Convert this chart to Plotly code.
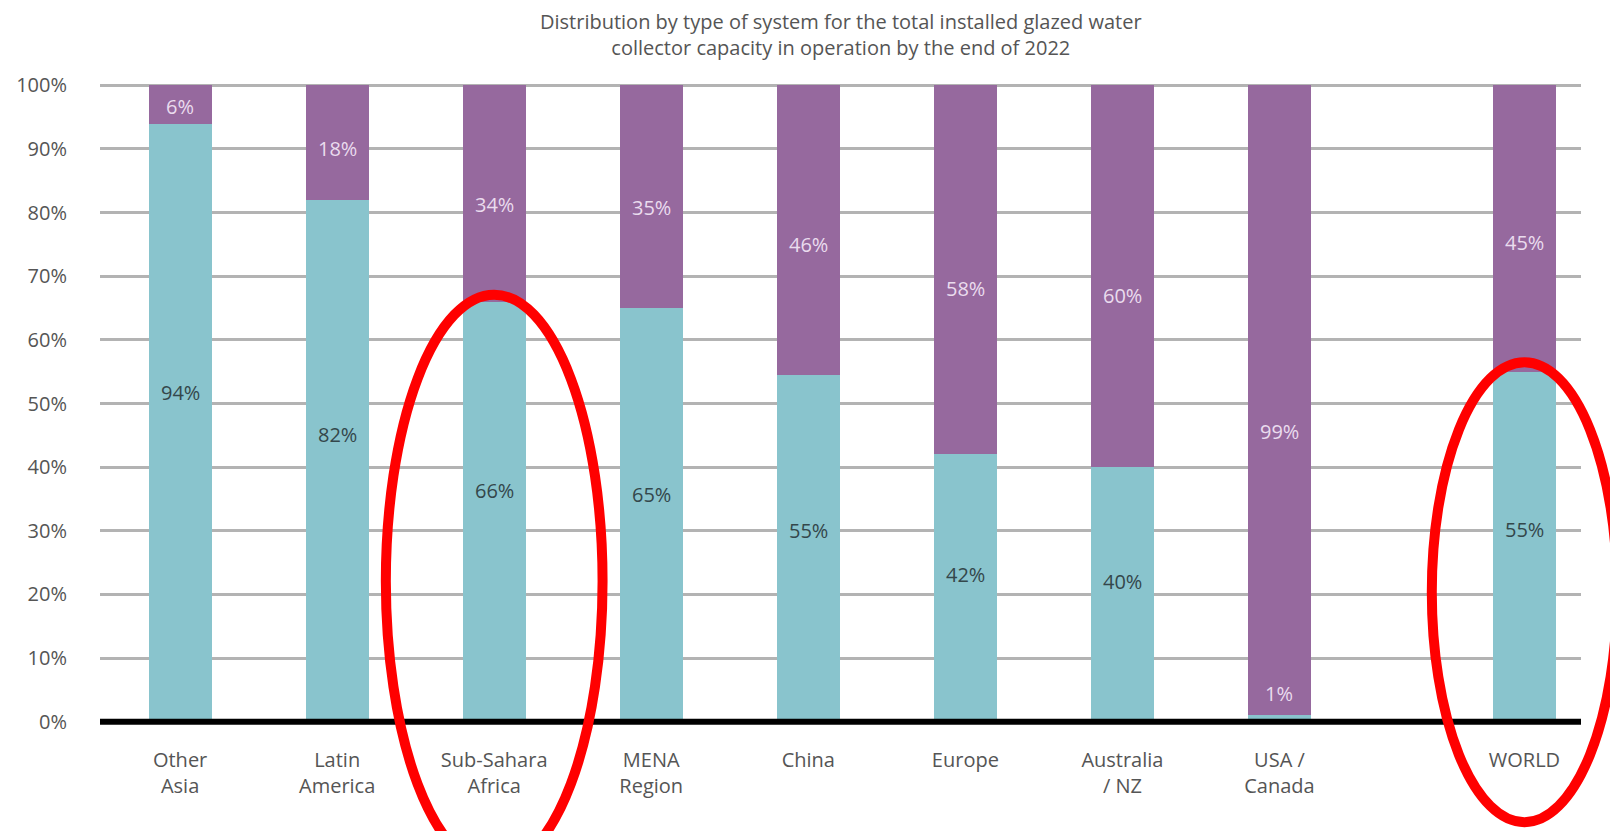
import plotly.graph_objects as go

# ---------------- data ----------------
categories = ["Other<br>Asia", "Latin<br>America", "Sub-Sahara<br>Africa", "MENA<br>Region",
              "China", "Europe", "Australia<br>/ NZ", "USA /<br>Canada", "WORLD"]
teal_values = [94, 82, 66, 65, 54.5, 42, 40, 1, 55]
purple_values = [6, 18, 34, 35, 45.5, 58, 60, 99, 45]
teal_labels = ["94%", "82%", "66%", "65%", "55%", "42%", "40%", "1%", "55%"]
purple_labels = ["6%", "18%", "34%", "35%", "46%", "58%", "60%", "99%", "45%"]
y_tick_values = [0, 10, 20, 30, 40, 50, 60, 70, 80, 90, 100]
y_tick_labels = ["0%", "10%", "20%", "30%", "40%", "50%", "60%", "70%", "80%", "90%", "100%"]
highlighted = ["Sub-Sahara<br>Africa", "WORLD"]
title_text = ("Distribution by type of system for the total installed glazed water<br>"
              "collector capacity in operation by the end of 2022")

# ---------------- layout constants ----------------
TEAL = "#89C4CD"
PURPLE = "#96699E"
WORLD_GAP = 0.56
BAR_W = 0.4
X_RANGE = [-0.51, 8.92]
Y_RANGE = [-1.0, 101.0]
FONT = "Open Sans"
M_L, M_R, M_T, M_B = 100, 29, 79, 103
H = 831
PLOT_H = H - M_T - M_B

n = len(categories)
x_pos = [i for i in range(n - 1)] + [n - 1 + WORLD_GAP]

fig = go.Figure()
fig.add_trace(go.Bar(x=x_pos, y=teal_values, width=BAR_W, marker=dict(color=TEAL, line=dict(width=0)),
                     name="teal", hoverinfo="skip"))
fig.add_trace(go.Bar(x=x_pos, y=purple_values, width=BAR_W, marker=dict(color=PURPLE, line=dict(width=0)),
                     name="purple", hoverinfo="skip"))

LIGHT = "#eadcee"
DARK = "#34474b"
annotations = []
for xp, t, p, tl, pl in zip(x_pos, teal_values, purple_values, teal_labels, purple_labels):
    if t >= 5:
        annotations.append(dict(x=xp, y=t * 0.55, text=tl, showarrow=False,
                                font=dict(family=FONT, size=20, color=DARK)))
    else:
        annotations.append(dict(x=xp, y=t + 3.5, text=tl, showarrow=False,
                                font=dict(family=FONT, size=20, color=LIGHT)))
    annotations.append(dict(x=xp, y=t + p * 0.45, text=pl, showarrow=False,
                            font=dict(family=FONT, size=20, color=LIGHT)))

annotations.append(dict(xref="paper", yref="paper", x=0.5, y=1 + (M_T - 6) / PLOT_H,
                        xanchor="center", yanchor="top", text=title_text, showarrow=False,
                        font=dict(family=FONT, size=20, color="#555555")))


def px(x):
    return (x - X_RANGE[0]) / (X_RANGE[1] - X_RANGE[0])


def py(y):
    return (y - Y_RANGE[0]) / (Y_RANGE[1] - Y_RANGE[0])


shapes = [dict(type="line", xref="paper", yref="y", x0=0, x1=1, y0=0, y1=0,
               line=dict(color="#000000", width=6), layer="above")]
ellipse_specs = {"Sub-Sahara<br>Africa": (0.69, -23.0, 67.1), "WORLD": (0.59, -15.8, 56.5)}
for name in highlighted:
    i = categories.index(name)
    hw, yb, yt = ellipse_specs[name]
    shapes.append(dict(type="circle", xref="paper", yref="paper",
                       x0=px(x_pos[i] - hw), x1=px(x_pos[i] + hw), y0=py(yb), y1=py(yt),
                       line=dict(color="#FF0000", width=10), layer="above"))

fig.update_layout(
    width=1610, height=H,
    barmode="stack",
    showlegend=False,
    plot_bgcolor="white", paper_bgcolor="white",
    margin=dict(l=M_L, r=M_R, t=M_T, b=M_B),
    xaxis=dict(range=X_RANGE, tickmode="array", tickvals=x_pos, ticktext=categories,
               showgrid=False, zeroline=False, showline=False, ticks="",
               tickfont=dict(family=FONT, size=20, color="#555555"), ticklabelstandoff=18),
    yaxis=dict(range=Y_RANGE, tickmode="array", tickvals=y_tick_values, ticktext=y_tick_labels,
               showgrid=True, gridcolor="#b3b3b3", gridwidth=2.5, zeroline=False, showline=False,
               ticks="", tickfont=dict(family=FONT, size=20, color="#555555"), ticklabelstandoff=32),
    annotations=annotations,
    shapes=shapes,
)

fig.write_html("out.html")
